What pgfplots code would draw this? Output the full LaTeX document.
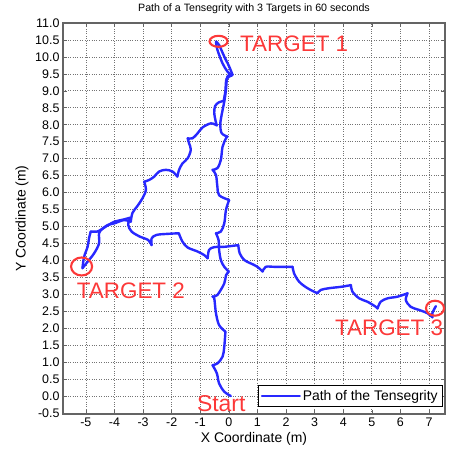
\documentclass[border=0pt]{standalone}
\usepackage{pgfplots}
\pgfplotsset{compat=1.18}
\usepackage{fontspec}
\setmainfont{Liberation Sans}
\definecolor{pathblue}{RGB}{40,40,255}
\definecolor{tred}{RGB}{252,56,56}
\definecolor{axgray}{RGB}{100,100,100}
\pgfplotsset{seg/.style={pathblue, line width=2.4bp, line join=round, line cap=round, smooth, tension=0.55}}
\begin{document}
\begin{tikzpicture}
\begin{axis}[
  scale only axis, width=382bp, height=391bp,
  xmin=-5.8, xmax=7.56, ymin=-0.53, ymax=11,
  clip=false,
  xtick={-5,-4,...,7},
  ytick={-0.5,0,0.5,...,11},
  tick pos=both, tick align=inside,
  major tick length=4bp,
  tick style={axgray, line width=0.6bp},
  axis line style={axgray, line width=1.1bp},
  grid=major,
  major grid style={dotted, black!55, line width=0.7bp},
  ticklabel style={font=\fontsize{12.5}{14}\selectfont},
  /pgf/number format/assume math mode=true,
  yticklabel style={/pgf/number format/.cd, fixed, fixed zerofill, precision=1},
  xticklabel style={/pgf/number format/.cd, fixed, precision=0},
  title={Path of a Tensegrity with 3 Targets in 60 seconds},
  title style={at={(axis description cs:0.5,1)}, anchor=south, inner sep=0pt, yshift=3bp, font=\fontsize{10.7}{12}\selectfont},
  xlabel={X Coordinate (m)},
  ylabel={Y Coordinate (m)},
  every axis x label/.style={at={(axis description cs:0.5,0)}, anchor=center, yshift=-25bp, font=\fontsize{14}{16}\selectfont},
  every axis y label/.style={at={(axis description cs:-0.107,0.5)}, rotate=90, anchor=center, font=\fontsize{14}{16}\selectfont},
  legend style={at={(axis description cs:0.995,0.018)}, anchor=south east, draw=black, line width=0.8bp, font=\fontsize{14}{16}\selectfont, inner xsep=3bp, inner ysep=3bp, fill=white},
  legend cell align=left,
  legend image code/.code={\draw[pathblue, line width=1.8bp] (0bp,0bp) -- (38bp,0bp);},
]
\addplot[seg] coordinates {(0.07,0.0) (-0.16,0.13) (-0.34,0.37) (-0.42,0.67) (-0.57,0.91)};
\addlegendentry{Path of the Tensegrity}
\addplot[seg, forget plot] coordinates {(-0.57,0.91) (-0.40,0.96) (-0.22,1.16) (-0.16,1.45) (-0.12,1.90)};
\addplot[seg, forget plot] coordinates {(-0.12,1.90) (-0.34,2.09) (-0.45,2.44) (-0.51,2.88) (-0.57,2.93)};
\addplot[seg, forget plot] coordinates {(-0.57,2.93) (-0.40,2.98) (-0.16,3.32) (-0.10,3.56) (0.0,3.67)};
\addplot[seg, forget plot] coordinates {(0.0,3.67) (-0.16,3.81) (-0.28,4.01) (-0.34,4.31) (-0.36,4.60) (-0.45,4.80)};
\addplot[seg, forget plot] coordinates {(-0.45,4.80) (-0.28,4.85) (-0.16,5.09) (-0.10,5.49) (0.01,5.78)};
\addplot[seg, forget plot] coordinates {(0.01,5.78) (-0.34,5.92) (-0.40,6.17) (-0.45,6.52) (-0.57,6.67)};
\addplot[seg, forget plot] coordinates {(-0.57,6.67) (-0.40,6.72) (-0.28,6.96) (-0.22,7.35) (-0.10,7.60) (-0.05,7.65)};
\addplot[seg, forget plot] coordinates {(-0.05,7.65) (-0.25,7.75) (-0.30,8.00) (-0.25,8.30) (-0.16,8.68) (-0.10,9.03) (-0.05,9.42) (0.13,9.47)};
\addplot[seg, forget plot] coordinates {(0.13,9.47) (0.01,9.72) (-0.16,10.01) (-0.34,10.35) (-0.45,10.45)};
\addplot[seg, forget plot] coordinates {(-0.45,10.45) (-0.40,10.21) (-0.22,9.81) (-0.05,9.57) (0.10,9.45)};
\addplot[seg, forget plot] coordinates {(0.10,9.45) (-0.08,9.35) (-0.12,9.00) (-0.18,8.70)};
\addplot[seg, forget plot] coordinates {(-0.18,8.70) (-0.35,8.66) (-0.48,8.55) (-0.51,8.35) (-0.46,8.10) (-0.42,7.98)};
\addplot[seg, forget plot] coordinates {(-0.42,7.98) (-0.63,8.04) (-0.92,7.92) (-1.09,7.75) (-1.27,7.60) (-1.44,7.60)};
\addplot[seg, forget plot] coordinates {(-1.44,7.60) (-1.39,7.45) (-1.33,7.26) (-1.44,7.01) (-1.62,6.86) (-1.74,6.67) (-1.80,6.47)};
\addplot[seg, forget plot] coordinates {(-1.80,6.47) (-1.97,6.62) (-2.20,6.67) (-2.44,6.62) (-2.61,6.47) (-2.79,6.37) (-2.96,6.32)};
\addplot[seg, forget plot] coordinates {(-2.96,6.32) (-2.90,6.08) (-3.02,5.83) (-3.20,5.60) (-3.37,5.40) (-3.43,5.14)};
\addplot[seg, forget plot] coordinates {(-3.43,5.14) (-3.66,5.19) (-4.01,5.09) (-4.24,5.04) (-4.48,4.90) (-4.60,4.85) (-4.83,4.85)};
\addplot[seg, forget plot] coordinates {(-4.83,4.85) (-4.89,4.65) (-4.94,4.40) (-5.06,4.11) (-5.12,3.77)};
\addplot[seg, forget plot] coordinates {(-5.12,3.77) (-4.94,3.96) (-4.71,4.21) (-4.54,4.50) (-4.54,4.80) (-4.42,4.93) (-4.20,5.05) (-4.00,5.14) (-3.66,5.21) (-3.45,5.26)};
\addplot[seg, forget plot] coordinates {(-3.45,5.26) (-3.52,5.05) (-3.40,4.85) (-3.11,4.70) (-2.82,4.60) (-2.70,4.45)};
\addplot[seg, forget plot] coordinates {(-2.70,4.45) (-2.70,4.65) (-2.53,4.75) (-2.18,4.78) (-1.75,4.80)};
\addplot[seg, forget plot] coordinates {(-1.75,4.80) (-1.62,4.55) (-1.44,4.38) (-1.09,4.26) (-0.85,4.15) (-0.74,4.06)};
\addplot[seg, forget plot] coordinates {(-0.74,4.06) (-0.69,4.31) (-0.51,4.39) (-0.16,4.40) (0.33,4.45)};
\addplot[seg, forget plot] coordinates {(0.33,4.45) (0.38,4.21) (0.54,4.01) (0.77,3.91) (1.00,3.81) (1.18,3.67)};
\addplot[seg, forget plot] coordinates {(1.18,3.67) (1.29,3.81) (1.58,3.81) (1.93,3.81) (2.23,3.81)};
\addplot[seg, forget plot] coordinates {(2.23,3.81) (2.28,3.62) (2.46,3.37) (2.75,3.18) (3.10,3.03)};
\addplot[seg, forget plot] coordinates {(3.10,3.03) (3.22,3.13) (3.51,3.18) (3.92,3.22) (4.27,3.27)};
\addplot[seg, forget plot] coordinates {(4.27,3.27) (4.32,3.08) (4.56,2.88) (4.85,2.78) (5.14,2.63) (5.20,2.58)};
\addplot[seg, forget plot] coordinates {(5.20,2.58) (5.31,2.78) (5.55,2.88) (5.90,2.93) (6.25,3.03)};
\addplot[seg, forget plot] coordinates {(6.25,3.03) (6.19,2.83) (6.36,2.63) (6.65,2.54) (6.95,2.44) (7.12,2.32)};
\addplot[seg, forget plot] coordinates {(7.12,2.32) (7.12,2.45) (7.24,2.65)};
\addplot[only marks, tred, mark=o, mark size=5.5bp, mark options={xscale=1.64, line width=2.1bp}, forget plot] coordinates {(-0.36,10.46)};
\addplot[only marks, tred, mark=o, mark size=9bp, mark options={xscale=1.17, line width=2.1bp}, forget plot] coordinates {(-5.15,3.82)};
\addplot[only marks, tred, mark=o, mark size=7.5bp, mark options={xscale=1.2, line width=2.1bp}, forget plot] coordinates {(7.21,2.59)};
\node[tred, anchor=west, inner sep=0pt, font=\fontsize{22.5}{24}\selectfont] at (axis cs:0.39,10.39) {TARGET 1};
\node[tred, anchor=west, inner sep=0pt, font=\fontsize{22.5}{24}\selectfont] at (axis cs:-5.32,3.10) {TARGET 2};
\node[tred, anchor=west, inner sep=0pt, font=\fontsize{22.5}{24}\selectfont] at (axis cs:3.71,2.01) {TARGET 3};
\node[tred, anchor=west, inner sep=0pt, font=\fontsize{23}{25}\selectfont] at (axis cs:-1.12,-0.21) {Start};
\end{axis}
\pgfresetboundingbox
\path[use as bounding box] ([xshift=-63bp,yshift=-36bp]current axis.south west) rectangle ([xshift=5bp,yshift=23bp]current axis.north east);
\end{tikzpicture}
\end{document}
